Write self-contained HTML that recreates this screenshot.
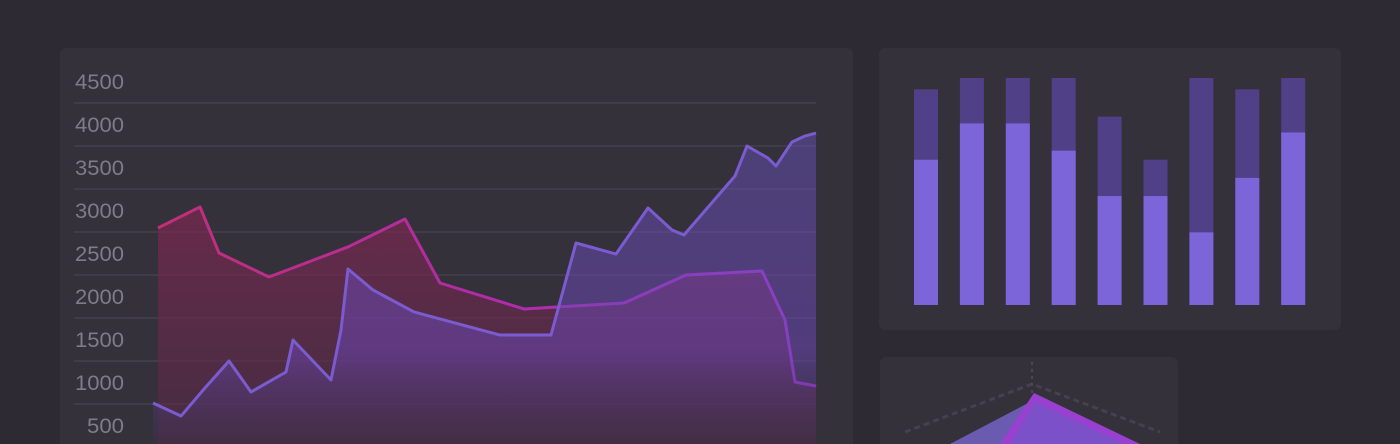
<!DOCTYPE html>
<html><head><meta charset="utf-8"><style>
html,body{margin:0;padding:0;background:#2d2a33;width:1400px;height:444px;overflow:hidden;font-family:"Liberation Sans",sans-serif}
</style></head><body>
<svg width="1400" height="444">
<defs>
<linearGradient id="redFill" x1="0" y1="0" x2="0" y2="1"><stop offset="0" stop-color="#7a2850" stop-opacity="0.75"/><stop offset="1" stop-color="#5a2848" stop-opacity="0.5"/></linearGradient>
<linearGradient id="purFill" x1="0" y1="0" x2="0" y2="1"><stop offset="0" stop-color="#6a52c0" stop-opacity="0.45"/><stop offset="0.7" stop-color="#6a44b0" stop-opacity="0.55"/><stop offset="1" stop-color="#3a3048" stop-opacity="0.4"/></linearGradient>
<linearGradient id="redStroke" x1="0" y1="0" x2="1" y2="0"><stop offset="0" stop-color="#c03078"/><stop offset="0.5" stop-color="#b02ca8"/><stop offset="1" stop-color="#a838d8"/></linearGradient>
</defs>
<rect x="60" y="48" width="793" height="410" rx="6" fill="#34313b"/>
<rect x="879" y="48" width="462" height="282" rx="6" fill="#34313b"/>
<rect x="880" y="357" width="298" height="100" rx="6" fill="#34313b"/>
<g id="lineChart"></g>
<g id="barChart"></g>
<g>
<polyline points="905,432 1032,384 1160,432" fill="none" stroke="#45414d" stroke-width="3" stroke-dasharray="6,4"/>
<line x1="1032" y1="362" x2="1032" y2="444" stroke="#4a4652" stroke-width="2" stroke-dasharray="3,4"/>
<polygon points="950,444 1030,402 1130,444" fill="#6a5ab0"/>
<polygon points="1000,444 1034,393 1140,444" fill="#9a40d0"/>
<polygon points="1010,444 1035,402 1125,444" fill="#7c50c8"/>
</g>
</svg>
<script>
const NS='http://www.w3.org/2000/svg';
const yTicks=[4500,4000,3500,3000,2500,2000,1500,1000,500];
const redX=[5,47,66,116,195,252,287,371,471,533,609,632,642,663];
const redY=[3047,3291,2756,2477,2826,3151,2407,2105,2174,2500,2547,1977,1256,1209];
const purX=[0,28,51,76,98,133,140,178,188,195,220,261,347,398,423,463,495,519,531,582,594,615,623,639,652,663];
const purY=[1012,860,1174,1500,1140,1372,1744,1279,1860,2570,2326,2070,1802,1802,2872,2744,3279,3023,2965,3651,4000,3860,3767,4047,4116,4151];
const barLight=[64,80,80,68,48,48,32,56,76];
const barTotal=[95,100,100,100,83,64,100,95,100];
function X(v){return 153+v;}
function Y(v){return 103+(4500-v)*43/500;}
function el(t,a,p){const e=document.createElementNS(NS,t);for(const k in a)e.setAttribute(k,a[k]);p.appendChild(e);return e;}
const lc=document.getElementById('lineChart');
yTicks.forEach((t,i)=>{
 if(i<yTicks.length-1){const l=el('line',{x1:74,x2:816,y1:Y(t),y2:Y(t),stroke:'#403c48','stroke-width':2},lc);
 
 }
 const tx=el('text',{x:124,y:Y(t)-14,'text-anchor':'end',fill:'#7f7b87','font-size':21,'textLength':t>=1000?49:37,'lengthAdjust':'spacingAndGlyphs'},lc);
 tx.textContent=t;
 
 
});
function series(xs,ys,fill,stroke,name){
 const pts=xs.map((x,i)=>X(x)+','+Y(ys[i])).join(' ');
 const a=el('polygon',{points:X(xs[0])+',444 '+pts+' '+X(xs[xs.length-1])+',444',fill:fill},lc);
 
 
 const p=el('polyline',{points:pts,fill:'none',stroke:stroke,'stroke-width':3,'stroke-linejoin':'round'},lc);
 
 
}
series(redX,redY,'url(#redFill)','url(#redStroke)','series-red');
series(purX,purY,'url(#purFill)','#7a5cd0','series-purple');
const bc=document.getElementById('barChart');
function BY(v){return 305-v*2.27;}
barLight.forEach((v,i)=>{
 const cx=926+i*45.9;
 const d=el('rect',{x:cx-12,y:BY(barTotal[i]),width:24,height:305-BY(barTotal[i]),fill:'#4f4088'},bc);
 
 
 const l=el('rect',{x:cx-12,y:BY(v),width:24,height:305-BY(v),fill:'#7b65d9'},bc);
 
 
});
</script>
</body></html>
